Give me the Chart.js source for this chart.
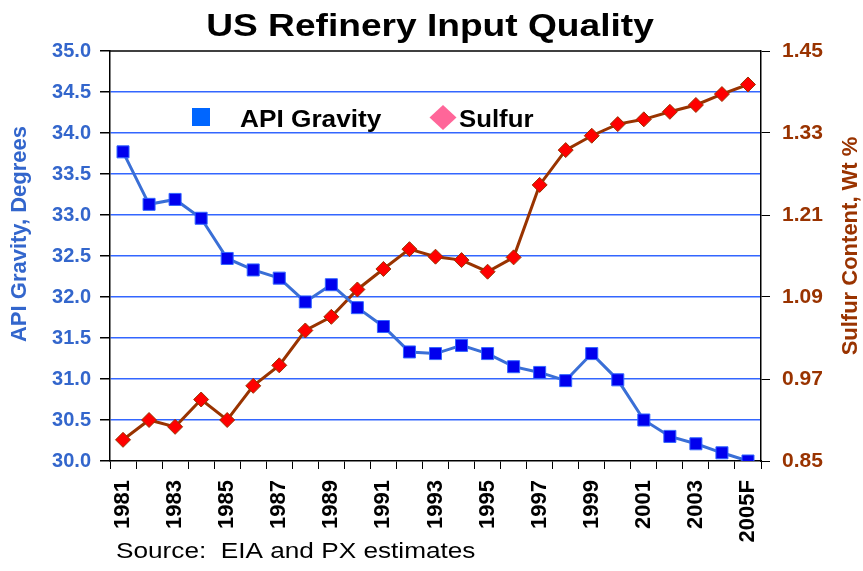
<!DOCTYPE html>
<html>
<head>
<meta charset="utf-8">
<script src="https://cdn.jsdelivr.net/npm/chart.js@4"></script>
<style>
  body { margin: 0; background: #fff; }
  #wrap { width: 863px; height: 571px; }
</style>
</head>
<body>
<div id="wrap"><canvas id="myChart" width="863" height="571"></canvas></div>
<script>
const years = ["1981","1982","1983","1984","1985","1986","1987","1988","1989","1990","1991","1992","1993",
  "1994","1995","1996","1997","1998","1999","2000","2001","2002","2003","2004","2005F"];
const apiGravity = [33.77,33.13,33.19,32.96,32.47,32.33,32.23,31.94,32.15,31.87,31.64,31.33,31.31,
  31.41,31.31,31.15,31.08,30.98,31.31,30.99,30.50,30.30,30.21,30.10,30.00];
const sulfur = [0.881,0.910,0.900,0.940,0.910,0.960,0.990,1.041,1.061,1.101,1.131,1.160,1.149,
  1.144,1.127,1.148,1.254,1.305,1.326,1.343,1.350,1.361,1.371,1.387,1.401];
const apiTicks = [30.0,30.5,31.0,31.5,32.0,32.5,33.0,33.5,34.0,34.5,35.0];
const sulfurTicks = [0.85,0.97,1.09,1.21,1.33,1.45];

const blueText = "#3366cc";
const brown = "#993300";

// text with a horizontal stretch, like the original slide
function stretchText(ctx, txt, x, y, font, sx, align, color) {
  ctx.save();
  ctx.font = font;
  ctx.fillStyle = color;
  ctx.textAlign = align;
  ctx.textBaseline = "alphabetic";
  ctx.translate(x, y);
  ctx.scale(sx, 1);
  ctx.fillText(txt, 0, 0);
  ctx.restore();
}

const extras = {
  id: "extras",
  afterDraw(chart) {
    const ctx = chart.ctx;
    stretchText(ctx, "US Refinery Input Quality", 430, 36, "bold 32px Arial", 1.16, "center", "#000");

    // axis titles
    ctx.save();
    ctx.font = "bold 22px Arial";
    ctx.textAlign = "center";
    ctx.textBaseline = "middle";
    ctx.translate(20, 234);
    ctx.rotate(-Math.PI / 2);
    ctx.fillStyle = blueText;
    ctx.fillText("API Gravity, Degrees", 0, 0);
    ctx.restore();
    ctx.save();
    ctx.font = "bold 22px Arial";
    ctx.textAlign = "center";
    ctx.textBaseline = "middle";
    ctx.translate(851, 246);
    ctx.rotate(-Math.PI / 2);
    ctx.fillStyle = brown;
    ctx.fillText("Sulfur Content, Wt %", 0, 0);
    ctx.restore();

    stretchText(ctx, "Source:  EIA and PX estimates", 116, 558, "22px Arial", 1.19, "left", "#000");

    // legend
    ctx.save();
    ctx.fillStyle = "#0066ff";
    ctx.fillRect(192, 108, 18, 18);
    ctx.fillStyle = "#ff6699";
    ctx.beginPath();
    ctx.moveTo(443, 105); ctx.lineTo(456.5, 117.5); ctx.lineTo(443, 130); ctx.lineTo(429.5, 117.5);
    ctx.closePath(); ctx.fill();
    ctx.restore();
    stretchText(ctx, "API Gravity", 240, 127, "bold 23px Arial", 1.14, "left", "#000");
    stretchText(ctx, "Sulfur", 459, 127, "bold 23px Arial", 1.12, "left", "#000");
  }
};

new Chart("myChart", {
  type: "line",
  data: {
    labels: years,
    datasets: [{
      label: "API Gravity",
      data: apiGravity,
      yAxisID: "y",
      borderColor: "#3a6fd6",
      borderWidth: 3,
      pointStyle: "rect",
      pointRadius: 8.5,
      pointBackgroundColor: "#0000ee",
      pointBorderColor: "#3366ff",
      pointBorderWidth: 1,
      fill: false
    }, {
      label: "Sulfur",
      data: sulfur,
      yAxisID: "y1",
      borderColor: brown,
      borderWidth: 3,
      pointStyle: "rectRot",
      pointRadius: 7.5,
      pointBackgroundColor: "#ff0000",
      pointBorderColor: brown,
      pointBorderWidth: 1,
      fill: false
    }]
  },
  options: {
    responsive: false,
    animation: false,
    layout: {padding: {top: 51, left: 0, right: 0, bottom: 0}},
    plugins: {legend: {display: false}, tooltip: {enabled: false}},
    scales: {
      x: {
        offset: true,
        grid: {offset: true, drawOnChartArea: false, tickLength: 8, tickColor: "#000"},
        border: {color: "#000", width: 1.5},
        ticks: {
          autoSkip: false, maxRotation: 90, minRotation: 90, padding: 11,
          color: "#000", font: {family: "Arial", size: 22, weight: "bold"},
          callback: (v, i) => (i % 2 === 0 ? years[i] : "")
        },
        afterFit: s => { s.height = 110; }
      },
      y: {
        position: "left",
        min: 30, max: 35,
        afterBuildTicks: s => { s.ticks = apiTicks.map(v => ({value: v})); },
        grid: {
          color: c => (c.tick.value === 30 || c.tick.value === 35 ? "rgba(0,0,0,0)" : "#3366ff"),
          lineWidth: 1.5, tickLength: 10, tickColor: "#000"
        },
        border: {color: "#000", width: 1.5},
        ticks: {
          color: blueText, padding: 9,
          font: {family: "Arial", size: 20, weight: "bold"},
          callback: v => v.toFixed(1)
        },
        afterFit: s => { s.width = 110; }
      },
      y1: {
        position: "right",
        min: 0.85, max: 1.45,
        afterBuildTicks: s => { s.ticks = sulfurTicks.map(v => ({value: v})); },
        grid: {drawOnChartArea: false, tickLength: 9, tickColor: "#000"},
        border: {color: "#000", width: 1.5},
        ticks: {
          color: brown, padding: 12,
          font: {family: "Arial", size: 21, weight: "bold"},
          callback: v => v.toFixed(2)
        },
        afterFit: s => { s.width = 102; }
      }
    }
  },
  plugins: [extras, {
    id: "topBorder",
    afterDraw(chart) {
      const a = chart.chartArea, ctx = chart.ctx;
      ctx.save();
      ctx.strokeStyle = "#000";
      ctx.lineWidth = 1.5;
      ctx.beginPath();
      ctx.moveTo(a.left, a.top); ctx.lineTo(a.right, a.top);
      ctx.stroke();
      ctx.restore();
    }
  }]
});
</script>
</body>
</html>
